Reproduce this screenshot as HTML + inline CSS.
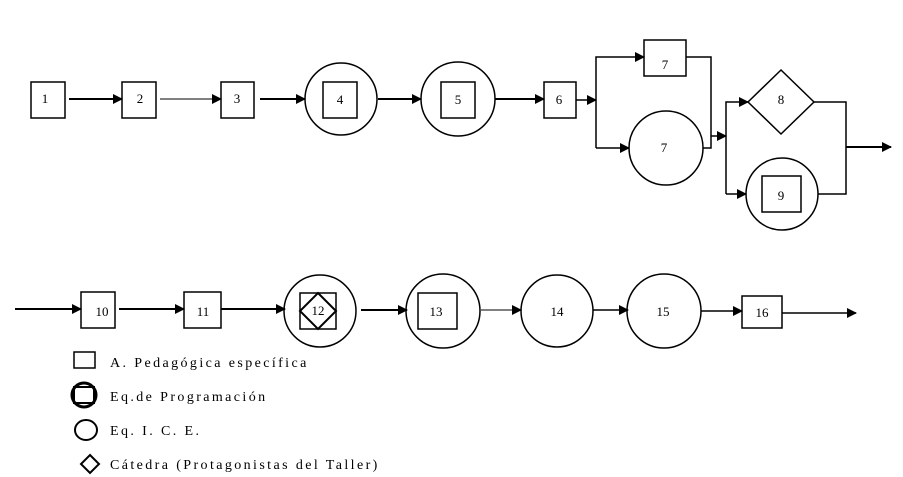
<!DOCTYPE html>
<html><head><style>body{margin:0;background:#fff}svg{display:block}text{font-family:"Liberation Serif",serif;font-size:13px;fill:#000}.lg text{font-size:14px}</style></head><body>
<svg width="903" height="477" viewBox="0 0 903 477">
<defs><marker id="a" markerWidth="10" markerHeight="10" refX="9" refY="5" orient="auto" markerUnits="userSpaceOnUse"><path d="M0,0 L10,5 L0,10 z" fill="#000"/></marker></defs>
<g fill="none" stroke="#000" stroke-width="1.5">
<rect x="31" y="82" width="34" height="36"/>
<rect x="122" y="82" width="34" height="36"/>
<rect x="221" y="82" width="33" height="36"/>
<circle cx="341" cy="99" r="36"/><rect x="323" y="82" width="34" height="36"/>
<circle cx="458" cy="99" r="37"/><rect x="441" y="82" width="34" height="36"/>
<rect x="544" y="82" width="32" height="36"/>
<rect x="644" y="40" width="42" height="36"/>
<circle cx="666" cy="148" r="37"/>
<path d="M781,70 L814,102 L781,134 L748,102 Z"/>
<circle cx="782" cy="194" r="36"/><rect x="762" y="176" width="39" height="36"/>
<line x1="69" y1="99" x2="122" y2="99" stroke-width="2" marker-end="url(#a)"/>
<line x1="160" y1="99" x2="221" y2="99" stroke-width="1" marker-end="url(#a)"/>
<line x1="260" y1="99" x2="305" y2="99" stroke-width="2" marker-end="url(#a)"/>
<line x1="378" y1="99" x2="421" y2="99" stroke-width="2" marker-end="url(#a)"/>
<line x1="495" y1="99" x2="544" y2="99" stroke-width="2" marker-end="url(#a)"/>
<line x1="576" y1="100" x2="596" y2="100" marker-end="url(#a)"/>
<path d="M596,148 L596,57 L644,57" marker-end="url(#a)"/>
<line x1="596" y1="148" x2="629" y2="148" marker-end="url(#a)"/>
<path d="M686,57 L711,57 L711,148 L703,148"/>
<line x1="711" y1="136" x2="726" y2="136" marker-end="url(#a)"/>
<path d="M726,194 L726,102 L748,102" marker-end="url(#a)"/>
<line x1="726" y1="194" x2="746" y2="194" marker-end="url(#a)"/>
<path d="M814,102 L846,102 L846,194 L818,194"/>
<line x1="846" y1="147" x2="891" y2="147" stroke-width="2" marker-end="url(#a)"/>
<rect x="81" y="292" width="34" height="36"/>
<rect x="184" y="292" width="37" height="36"/>
<circle cx="320" cy="311" r="36"/><rect x="300" y="293" width="36" height="36"/><path d="M318,293 L336,311 L318,329 L300,311 Z" stroke-width="2"/>
<circle cx="443" cy="311" r="37"/><rect x="418" y="293" width="39" height="36"/>
<circle cx="557" cy="311" r="36"/>
<circle cx="664" cy="311" r="37"/>
<rect x="742" y="296" width="40" height="32"/>
<line x1="15" y1="309" x2="81" y2="309" stroke-width="2" marker-end="url(#a)"/>
<line x1="119" y1="309" x2="184" y2="309" stroke-width="2" marker-end="url(#a)"/>
<line x1="221" y1="309" x2="285" y2="309" stroke-width="2" marker-end="url(#a)"/>
<line x1="361" y1="310" x2="407" y2="310" stroke-width="2" marker-end="url(#a)"/>
<line x1="481" y1="310" x2="521" y2="310" stroke-width="1" marker-end="url(#a)"/>
<line x1="593" y1="310" x2="628" y2="310" stroke-width="1.5" marker-end="url(#a)"/>
<line x1="701" y1="311" x2="742" y2="311" stroke-width="1.5" marker-end="url(#a)"/>
<line x1="782" y1="313" x2="856" y2="313" stroke-width="1.5" marker-end="url(#a)"/>
<rect x="74" y="352" width="21" height="16"/>
<circle cx="84" cy="395" r="12" stroke-width="3"/><rect x="74" y="387" width="20" height="16" stroke-width="2"/>
<ellipse cx="86" cy="430" rx="11" ry="10" stroke-width="2"/>
<path d="M90,455 L99,464 L90,473 L81,464 Z" stroke-width="2"/>
</g>
<g text-anchor="middle">
<text x="45" y="103">1</text><text x="140" y="103">2</text><text x="237" y="103">3</text>
<text x="340" y="104">4</text><text x="458" y="104">5</text><text x="559" y="104">6</text>
<text x="665" y="69">7</text><text x="664" y="152">7</text><text x="781" y="104">8</text><text x="781" y="200">9</text>
<text x="102" y="316">10</text><text x="203" y="316">11</text><text x="318" y="315">12</text><text x="436" y="316">13</text>
<text x="557" y="316">14</text><text x="663" y="316">15</text><text x="762" y="317">16</text>
</g>
<g class="lg" letter-spacing="2.4">
<text x="110" y="367">A.  Pedagógica específica</text>
<text x="110" y="401">Eq.de  Programación</text>
<text x="110" y="435">Eq.  I. C. E.</text>
<text x="110" y="469">Cátedra (Protagonistas del Taller)</text>
</g>
</svg>
</body></html>
